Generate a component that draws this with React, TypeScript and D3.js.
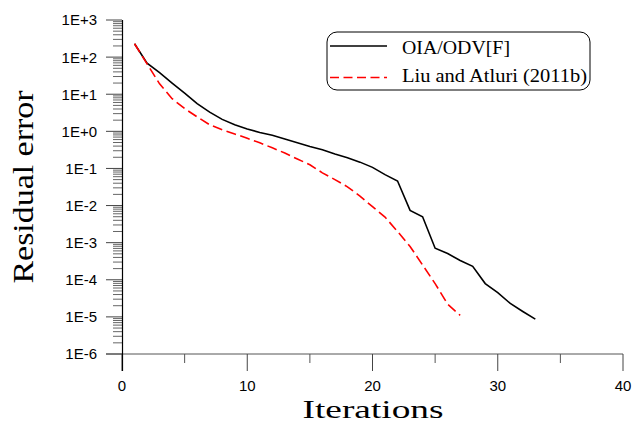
import React from "react";
import * as d3 from "d3";

const oiaIter = Array.from({ length: 33 }, (_, i) => i + 1);
const oiaValues = [
  229, 69, 38, 20, 10.7, 5.6, 3.3, 2.1, 1.5, 1.16, 0.93, 0.78, 0.62, 0.49, 0.39,
  0.32, 0.245, 0.195, 0.148, 0.107, 0.068, 0.046, 0.0074, 0.005, 7.1e-4, 5.1e-4,
  3.3e-4, 2.3e-4, 7.9e-5, 4.5e-5, 2.3e-5, 1.4e-5, 8.7e-6,
];
const liuIter = Array.from({ length: 27 }, (_, i) => i + 1);
const liuValues = [
  229, 66, 19, 7.6, 4.1, 2.45, 1.5, 1.1, 0.85, 0.65, 0.49, 0.36, 0.26, 0.18, 0.126,
  0.076, 0.05, 0.032, 0.018, 0.0093, 0.0049, 0.002, 7.9e-4, 2.5e-4, 7.9e-5, 2.2e-5,
  1.1e-5,
];
const yTickExps = [3, 2, 1, 0, -1, -2, -3, -4, -5, -6];
const yTickLabels = ["1E+3", "1E+2", "1E+1", "1E+0", "1E-1", "1E-2", "1E-3", "1E-4", "1E-5", "1E-6"];
const xMajorTicks = [0, 10, 20, 30, 40];
const xMinorTicks = [5, 15, 25, 35];
const seriesNames = ["OIA/ODV[F]", "Liu and Atluri (2011b)"];

export default function App() {
  const W = 633, H = 424;
  const x = d3.scaleLinear().domain([0, 40]).range([122, 623]);
  const y = d3.scaleLog().domain([1e-6, 1e3]).range([354, 20]);

  const line = d3
    .line<[number, number]>()
    .x((d) => x(d[0]))
    .y((d) => y(d[1]));

  const oiaPts = oiaIter.map((it, i) => [it, oiaValues[i]] as [number, number]);
  const liuPts = liuIter.map((it, i) => [it, liuValues[i]] as [number, number]);

  const minor: number[] = [];
  for (let e = -6; e < 3; e++) {
    for (let m = 2; m <= 9; m++) minor.push(m * Math.pow(10, e));
  }

  const serif = "'Liberation Serif', 'Times New Roman', serif";
  const sans = "'Liberation Sans', Arial, sans-serif";

  return (
    <svg
      width={W}
      height={H}
      style={{ position: "absolute", left: 0, top: 0, background: "#fff" }}
    >
      <rect x={0} y={0} width={W} height={H} fill="#fff" />
      {/* minor y ticks */}
      {minor.map((v, i) => (
        <line key={"ym" + i} x1={113} x2={122} y1={y(v)} y2={y(v)} stroke="#666" strokeWidth={1} />
      ))}
      {/* major y ticks */}
      {yTickExps.map((e, i) => (
        <g key={"yt" + i}>
          <line x1={106} x2={122} y1={y(Math.pow(10, e))} y2={y(Math.pow(10, e))} stroke="#444" strokeWidth={1} />
          <text
            x={97}
            y={y(Math.pow(10, e))}
            dy="0.36em"
            textAnchor="end"
            fontFamily={sans}
            fontSize={15}
            fill="#000"
          >
            {yTickLabels[i]}
          </text>
        </g>
      ))}
      {/* x axis */}
      <line x1={106} x2={x(40)} y1={y(1e-6)} y2={y(1e-6)} stroke="#555" strokeWidth={1} />
      {xMajorTicks.map((t) => (
        <g key={"xt" + t}>
          <line x1={x(t)} x2={x(t)} y1={354} y2={371} stroke="#444" strokeWidth={1} />
          <text x={x(t)} y={391} textAnchor="middle" fontFamily={sans} fontSize={15} fill="#000">
            {t}
          </text>
        </g>
      ))}
      {xMinorTicks.map((t) => (
        <line key={"xm" + t} x1={x(t)} x2={x(t)} y1={354} y2={363} stroke="#555" strokeWidth={1} />
      ))}
      {/* y axis */}
      <line x1={122.5} x2={122.5} y1={20} y2={371} stroke="#000" strokeWidth={1.2} />

      {/* series */}
      <path d={line(oiaPts) || ""} fill="none" stroke="#000" strokeWidth={1.6} />
      <path
        d={line(liuPts) || ""}
        fill="none"
        stroke="#ff0000"
        strokeWidth={1.6}
        strokeDasharray="10,4.5"
      />

      {/* legend */}
      <rect x={327} y={32} width={263} height={58} rx={10} ry={10} fill="#fff" stroke="#000" strokeWidth={1} />
      <line x1={330} x2={387} y1={46} y2={46} stroke="#000" strokeWidth={1.6} />
      <line x1={330} x2={387} y1={77.5} y2={77.5} stroke="#ff0000" strokeWidth={1.6} strokeDasharray="9,4.5" />
      <text x={402} y={54} fontFamily={serif} fontSize={19} textLength={108} lengthAdjust="spacingAndGlyphs">
        {seriesNames[0]}
      </text>
      <text x={402} y={82} fontFamily={serif} fontSize={19} textLength={185} lengthAdjust="spacingAndGlyphs">
        {seriesNames[1]}
      </text>

      {/* axis titles */}
      <text
        x={373}
        y={418}
        textAnchor="middle"
        fontFamily={serif}
        fontSize={26}
        textLength={141}
        lengthAdjust="spacingAndGlyphs"
      >
        Iterations
      </text>
      <text
        transform={`translate(33,187) rotate(-90)`}
        textAnchor="middle"
        fontFamily={serif}
        fontSize={30}
        textLength={193}
        lengthAdjust="spacingAndGlyphs"
      >
        Residual error
      </text>
    </svg>
  );
}
